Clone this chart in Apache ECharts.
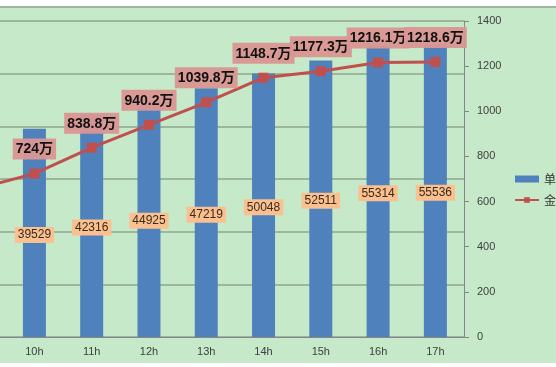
<!DOCTYPE html>
<html>
<head>
<meta charset="utf-8">
<script src="https://cdn.jsdelivr.net/npm/echarts@6/dist/echarts.min.js"></script>
<style>html,body{margin:0;padding:0;background:#fff;overflow:hidden;width:556px;height:367px;position:relative}#c{position:absolute;left:-52px;top:0;width:608px;height:367px}</style>
</head>
<body>
<div id="c"></div>
<script>
var categories = ['9h','10h','11h','12h','13h','14h','15h','16h','17h'];
var orderCounts = [null,39529,42316,44925,47219,50048,52511,55314,55536];
var amounts = [657,724,838.8,940.2,1039.8,1148.7,1177.3,1216.1,1218.6];
var seriesNames = ['单量','金额'];

var chart = echarts.init(document.getElementById('c'), null, {renderer:'canvas'});
var grid = '#8ea68e';
chart.setOption({
  backgroundColor: '#c6e9c9',
  animation: false,
  grid: {left: 0.5, right: 92, top: 21, bottom: 30},
  legend: {
    orient: 'vertical', left: 561, top: 168,
    itemWidth: 24, itemHeight: 7, itemGap: 9,
    textStyle: {fontSize: 12, color: '#333', fontFamily: 'Noto Sans CJK SC'},
    data: [{name: seriesNames[0], icon: 'rect'}, {name: seriesNames[1]}]
  },
  xAxis: {
    type: 'category', data: categories,
    axisLine: {lineStyle: {color: '#868686'}},
    axisTick: {length: 5, lineStyle: {color: '#868686'}},
    axisLabel: {fontSize: 11, color: '#404040', margin: 9, fontFamily: 'Liberation Sans'}
  },
  yAxis: [
    {type: 'value', min: 0, max: 60000, interval: 10000, position: 'left',
     axisLine: {show: false}, axisTick: {show: false}, axisLabel: {show: false},
     splitLine: {show: true, lineStyle: {color: grid, width: 1.5}}},
    {type: 'value', min: 0, max: 1400, interval: 200, position: 'right',
     axisLine: {show: true, lineStyle: {color: '#868686'}},
     axisTick: {show: true, length: 5, lineStyle: {color: '#868686'}},
     axisLabel: {fontSize: 11, color: '#404040', margin: 13, fontFamily: 'Liberation Sans',
       formatter: function(v){ return String(v); }},
     splitLine: {show: false}}
  ],
  series: [
    {name: seriesNames[0], type: 'bar', yAxisIndex: 0, data: orderCounts,
     barWidth: 23, itemStyle: {color: '#4f81bd'}, z: 2,
     label: {show: true, position: 'inside', offset: [0, 2], color: '#3a2a1a', fontSize: 12,
       fontFamily: 'Liberation Sans', backgroundColor: '#fac090', padding: [2, 3]}},
    {name: seriesNames[1], type: 'line', yAxisIndex: 1, data: amounts,
     symbol: 'rect', symbolSize: 10, z: 5,
     lineStyle: {color: '#c0504d', width: 3}, itemStyle: {color: '#c0504d'},
     label: {show: true, position: 'top', distance: 9,
       formatter: function(p){ return p.value + '万'; },
       color: '#111', fontSize: 14, fontWeight: 'bold',
       fontFamily: 'Liberation Sans, Noto Sans CJK SC',
       backgroundColor: 'rgba(218,150,148,0.95)', padding: [4, 3, 3, 3]}}
  ],
  graphic: [
    {type: 'rect', shape: {x: 0, y: 0, width: 608, height: 6}, style: {fill: '#fff'}, z: 100},
    {type: 'rect', shape: {x: 0, y: 363, width: 608, height: 4}, style: {fill: '#fff'}, z: 100},
    {type: 'line', shape: {x1: 0, y1: 7, x2: 608, y2: 7}, style: {stroke: '#8ea68e', lineWidth: 1.5}, z: 100}
  ]
});
</script>
</body>
</html>
